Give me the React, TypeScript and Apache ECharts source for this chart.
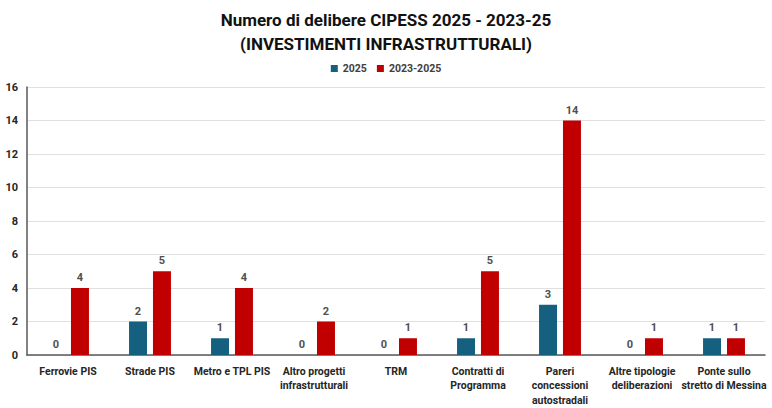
import React, { useEffect, useRef } from "react";
import * as echarts from "echarts";

const categories = [
  "Ferrovie PIS",
  "Strade PIS",
  "Metro e TPL PIS",
  "Altro progetti\ninfrastrutturali",
  "TRM",
  "Contratti di\nProgramma",
  "Pareri\nconcessioni\nautostradali",
  "Altre tipologie\ndeliberazioni",
  "Ponte sullo\nstretto di Messina",
];
const values2025 = [0, 2, 1, 0, 0, 1, 3, 0, 1];
const values2023_2025 = [4, 5, 4, 2, 1, 5, 14, 1, 1];
const seriesNames = ["2025", "2023-2025"];

const FONT = "'Roboto', 'Liberation Sans', sans-serif";

export default function App() {
  const ref = useRef<HTMLDivElement>(null);
  useEffect(() => {
    const chart = echarts.init(ref.current!, null, { renderer: "svg" });
    const labelStyle = {
      show: true,
      position: "top" as const,
      color: "#505050",
      fontSize: 11,
      fontWeight: "bold" as const,
      fontFamily: FONT,
      distance: 5,
    };
    chart.setOption({
      animation: false,
      backgroundColor: "#ffffff",
      title: {
        text: "Numero di delibere CIPESS 2025 - 2023-25\n(INVESTIMENTI INFRASTRUTTURALI)",
        left: "center",
        top: 3,
        textStyle: {
          fontFamily: FONT,
          fontSize: 17,
          fontWeight: "bold",
          color: "#111111",
          lineHeight: 24,
        },
      },
      legend: {
        top: 58,
        left: "center",
        itemWidth: 7,
        itemHeight: 7,
        itemGap: 10,
        icon: "rect",
        textStyle: { fontFamily: FONT, fontSize: 10.5, fontWeight: "bold", color: "#404040" },
        data: seriesNames,
      },
      grid: { left: 27, right: 7, top: 87, bottom: 53, containLabel: false },
      xAxis: {
        type: "category",
        data: categories,
        axisTick: { show: false },
        axisLine: { lineStyle: { color: "#595959", width: 1.5 } },
        axisLabel: {
          interval: 0,
          color: "#262626",
          fontSize: 10.5,
          fontWeight: "bold",
          fontFamily: FONT,
          lineHeight: 14.5,
          margin: 9,
        },
      },
      yAxis: {
        type: "value",
        min: 0,
        max: 16,
        interval: 2,
        axisLine: { show: true, lineStyle: { color: "#595959", width: 1.5 } },
        axisTick: { show: false },
        splitLine: { lineStyle: { color: "#e0e0e0", width: 1 } },
        axisLabel: {
          color: "#262626",
          fontSize: 11,
          fontWeight: "bold",
          fontFamily: FONT,
          margin: 9,
        },
      },
      series: [
        {
          name: seriesNames[0],
          type: "bar",
          data: values2025,
          barWidth: 18,
          barGap: "33%",
          itemStyle: { color: "#15607f" },
          label: labelStyle,
        },
        {
          name: seriesNames[1],
          type: "bar",
          data: values2023_2025,
          barWidth: 18,
          barGap: "33%",
          itemStyle: { color: "#c00000" },
          label: labelStyle,
        },
      ],
    });
    return () => chart.dispose();
  }, []);
  return (
    <div
      style={{
        position: "fixed",
        left: 0,
        top: 0,
        width: 772,
        height: 408,
        boxSizing: "border-box",
        border: "2px solid #8a8a8a",
        background: "#fff",
      }}
    >
      <div ref={ref} style={{ position: "absolute", left: -2, top: -2, width: 772, height: 408 }} />
    </div>
  );
}
